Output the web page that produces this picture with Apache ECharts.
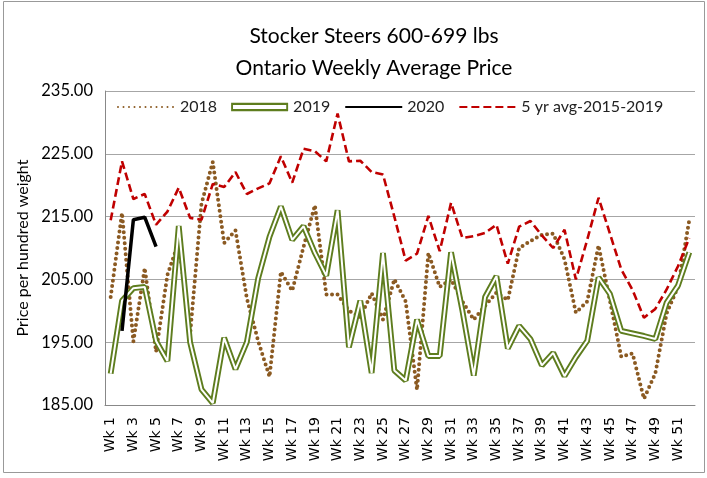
<!DOCTYPE html>
<html>
<head>
<meta charset="utf-8">
<script src="https://cdn.jsdelivr.net/npm/echarts@6/dist/echarts.min.js"></script>
<style>
  html, body { margin: 0; padding: 0; background: #fff; }
  #chart { width: 707px; height: 478px; }
</style>
</head>
<body>
<div id="chart"></div>
<script>
// weeks 1..52
const weeks = Array.from({ length: 52 }, (_, i) => 'Wk ' + (i + 1))

const y2018 = [202.2, 215.6, 195.1, 206.8, 193.5, 205.7, 211.0, 196.2, 217.0, 223.7,
  210.8, 212.8, 202.0, 195.2, 189.5, 206.2, 203.2, 210.2, 216.8, 202.6,
  202.6, 200.0, 199.0, 202.8, 198.6, 205.0, 201.5, 187.4, 209.2, 203.8,
  205.0, 201.5, 198.6, 200.8, 202.9, 201.7, 210.0, 211.1, 212.1, 212.3,
  208.2, 199.7, 201.5, 210.4, 201.6, 192.7, 193.2, 186.0, 190.0, 199.6,
  203.8, 214.5]

const y2019 = [190.0, 201.6, 203.6, 203.8, 195.2, 192.0, 213.5, 195.0, 187.5, 185.3,
  195.7, 190.7, 195.0, 205.2, 211.8, 216.6, 211.3, 213.5, 209.2, 205.6,
  216.0, 194.2, 201.6, 190.1, 209.2, 190.5, 188.9, 198.6, 192.8, 192.8,
  209.3, 200.0, 189.7, 202.2, 205.5, 194.0, 197.6, 195.5, 191.3, 193.3,
  189.6, 192.6, 195.2, 205.3, 202.7, 196.8, 196.4, 196.0, 195.5, 201.3,
  204.0, 209.3]

const y2020 = [null, 196.8, 214.5, 214.9, 210.2]

const avg5yr = [214.4, 223.8, 217.8, 218.6, 213.7, 215.8, 219.6, 214.8, 214.5, 220.2,
  219.7, 222.1, 218.6, 219.5, 220.3, 224.6, 220.4, 225.8, 225.4, 223.8,
  231.4, 223.8, 223.9, 222.1, 221.7, 215.0, 208.0, 209.1, 215.1, 209.5,
  217.2, 211.6, 211.9, 212.4, 213.7, 207.5, 213.4, 214.3, 212.0, 210.0,
  212.9, 205.0, 211.3, 218.0, 212.3, 206.6, 203.3, 198.9, 200.3, 203.4,
  207.1, 211.6]

const green = '#5e7d1e'
const chart = echarts.init(document.getElementById('chart'))

chart.setOption({
  animation: false,
  title: {
    text: 'Stocker Steers 600-699 lbs\nOntario Weekly Average Price',
    left: 369,
    top: 15,
    textAlign: 'center',
    textStyle: { fontFamily: 'Lato', fontSize: 21, fontWeight: 'normal', color: '#000', lineHeight: 32 }
  },
  legend: {
    left: 112,
    top: 94,
    itemWidth: 57,
    itemHeight: 10,
    itemGap: 14,
    itemStyle: { opacity: 0 },
    textStyle: { fontFamily: 'Lato', fontSize: 16, color: '#222' },
    data: [
      { name: '2018' },
      {
        name: '2019',
        icon: 'path://M0,0 L60,0 L60,9 L0,9 Z M2,2.5 L2,6.5 L58,6.5 L58,2.5 Z',
        itemStyle: { opacity: 1, color: green }
      },
      { name: '2020' },
      { name: '5 yr avg-2015-2019' }
    ]
  },
  grid: { left: 105, right: 12, top: 91, bottom: 73 },
  xAxis: {
    type: 'category',
    data: weeks,
    boundaryGap: true,
    axisLine: { lineStyle: { color: '#888' } },
    axisTick: { interval: 0, length: 5, lineStyle: { color: '#888' } },
    axisLabel: {
      interval: 1,
      rotate: 90,
      fontFamily: 'DejaVu Sans',
      fontSize: 14,
      color: '#000',
      margin: 12
    }
  },
  yAxis: {
    type: 'value',
    min: 185,
    max: 235,
    interval: 10,
    name: 'Price per hundred weight',
    nameLocation: 'middle',
    nameRotate: 90,
    nameGap: 72,
    nameTextStyle: { fontFamily: 'Lato', fontSize: 16, color: '#000' },
    axisLine: { show: true, lineStyle: { color: '#888' } },
    axisTick: { show: false },
    splitLine: { lineStyle: { color: '#a6a6a6', width: 1 } },
    axisLabel: {
      formatter: v => v.toFixed(2),
      fontFamily: 'Lato',
      fontSize: 16.5,
      color: '#000',
      margin: 12
    }
  },
  graphic: [{
    type: 'rect',
    shape: { x: 3.5, y: 1.5, width: 701, height: 471 },
    style: { fill: 'none', stroke: '#999', lineWidth: 1 },
    silent: true
  }],
  series: [
    {
      name: '2018',
      type: 'line',
      data: y2018,
      symbol: 'none',
      itemStyle: { color: '#8b5a22' },
      lineStyle: { color: '#8b5a22', width: 4, type: [0, 5.5], cap: 'round' }
    },
    {
      name: '2019',
      type: 'line',
      data: y2019,
      symbol: 'none',
      itemStyle: { color: green },
      lineStyle: { color: green, width: 5.8 }
    },
    {
      name: '2019 inner',
      type: 'line',
      data: y2019,
      symbol: 'none',
      silent: true,
      lineStyle: { color: '#fff', width: 2 }
    },
    {
      name: '2020',
      type: 'line',
      data: y2020,
      symbol: 'none',
      itemStyle: { color: '#000' },
      lineStyle: { color: '#000', width: 3.5 }
    },
    {
      name: '5 yr avg-2015-2019',
      type: 'line',
      data: avg5yr,
      symbol: 'none',
      itemStyle: { color: '#c00000' },
      lineStyle: { color: '#c00000', width: 2.6, type: [8, 4] }
    }
  ]
})
</script>
</body>
</html>
